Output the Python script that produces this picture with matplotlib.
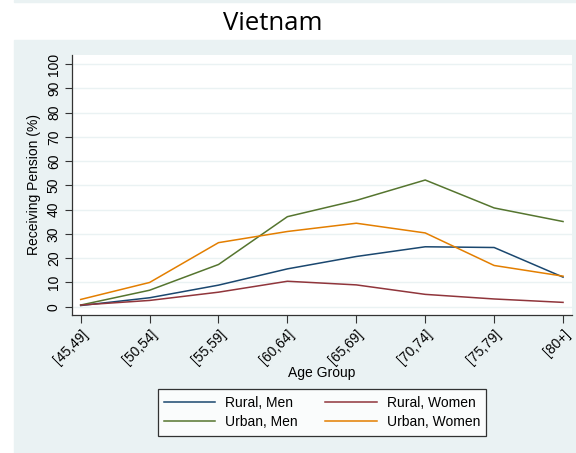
import numpy as np
import matplotlib.pyplot as plt
from matplotlib.patches import Rectangle

plt.rcParams['font.family'] = ['Liberation Sans', 'DejaVu Sans']

age_groups = ['[45,49]', '[50,54]', '[55,59]', '[60,64]', '[65,69]', '[70,74]', '[75,79]', '[80+]']
rural_men = [0.5, 3.7, 8.9, 15.6, 20.7, 24.7, 24.4, 12.2]
rural_women = [0.7, 2.6, 6.0, 10.5, 9.0, 5.1, 3.2, 1.8]
urban_men = [0.7, 6.8, 17.4, 37.1, 43.8, 52.2, 40.7, 35.1]
urban_women = [3.0, 10.0, 26.4, 31.0, 34.4, 30.4, 17.0, 12.6]

bg = '#eaf2f3'

fig = plt.figure(figsize=(5.76, 4.53), dpi=100)
fig.patch.set_facecolor('white')
# stata graph region
fig.patches.append(Rectangle((14/576, 0), 1 - 14/576, 1 - 40/453,
                             transform=fig.transFigure, color=bg, zorder=-10))
fig.patches.append(Rectangle((14/576, 1 - 2/453), 1 - 14/576, 2/453,
                             transform=fig.transFigure, color=bg, zorder=-10))

ax = fig.add_axes([72/576, 1 - 315/453, 500/576, 260.5/453])
ax.set_facecolor('white')

x = np.arange(len(age_groups))
ax.plot(x, rural_men, color='#1a476f', lw=1.1, label='Rural, Men')
ax.plot(x, urban_men, color='#55752f', lw=1.1, label='Urban, Men')
ax.plot(x, rural_women, color='#90353b', lw=1.1, label='Rural, Women')
ax.plot(x, urban_women, color='#e37e00', lw=1.1, label='Urban, Women')

ax.set_xlim(-0.126, 7.13)
ax.set_ylim(-3.4, 103.9)
ax.set_yticks(np.arange(0, 101, 10))
ax.set_xticks(x)
ax.set_xticklabels(age_groups, rotation=45, ha='right', rotation_mode='anchor')
ax.tick_params(axis='y', labelrotation=90, length=5, width=0.8, labelsize=10, pad=3,
               color='#333333')
ax.tick_params(axis='x', length=5.5, width=0.8, labelsize=10, pad=3,
               color='#333333')
for lab in ax.get_yticklabels():
    lab.set_va('center')

ax.grid(axis='y', color=bg, lw=1)
ax.set_axisbelow(True)
for s in ['top', 'right']:
    ax.spines[s].set_visible(False)
for s in ['left', 'bottom']:
    ax.spines[s].set_color('#333333')
    ax.spines[s].set_linewidth(0.9)

ax.set_ylabel('Receiving Pension (%)', fontsize=10, labelpad=4)
fig.text(0.559, 0.177, 'Age Group', ha='center', va='center', fontsize=10)

fig.text(0.474, 0.948, 'Vietnam', ha='center', va='center', fontsize=18.5,
         family=['Open Sans', 'DejaVu Sans'])

leg = fig.legend(loc='center', bbox_to_anchor=(0.559, 0.0894), ncol=2,
                 fontsize=10, frameon=True, fancybox=False, handlelength=3.7,
                 handletextpad=0.7, columnspacing=2.0, labelspacing=0.4,
                 borderpad=0.45)
leg.get_frame().set_edgecolor('black')
leg.get_frame().set_linewidth(0.9)

fig.savefig('out.png', dpi=100, facecolor=fig.get_facecolor())
